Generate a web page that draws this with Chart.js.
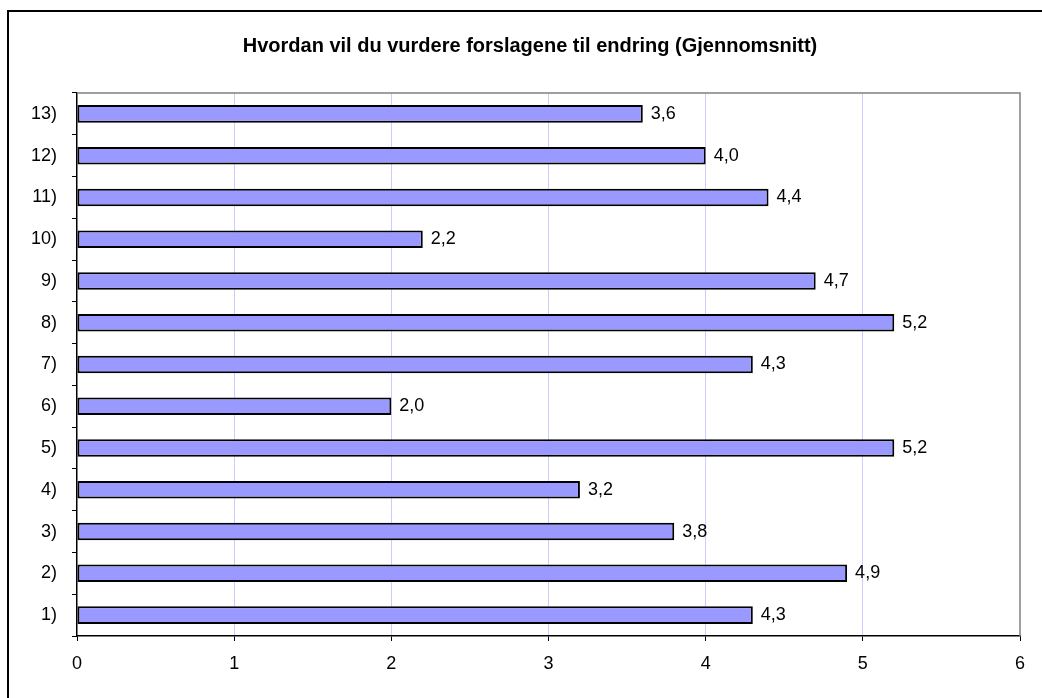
<!DOCTYPE html>
<html>
<head>
<meta charset="utf-8">
<script src="https://cdn.jsdelivr.net/npm/chart.js@4/dist/chart.umd.min.js"></script>
<style>
  html, body { margin: 0; padding: 0; background: #fff; overflow: hidden; }
  #wrap { position: absolute; left: 0; top: 0; width: 1042px; height: 698px; }
</style>
</head>
<body>
<div id="wrap"><canvas id="chart" width="1042" height="698"></canvas></div>
<script>
// chart title
const title = 'Hvordan vil du vurdere forslagene til endring (Gjennomsnitt)';
// question numbers, bottom to top
const labels = ['1)', '2)', '3)', '4)', '5)', '6)', '7)', '8)', '9)', '10)', '11)', '12)', '13)'];
// average score per question
const averages = [4.3, 4.9, 3.8, 3.2, 5.2, 2.0, 4.3, 5.2, 4.7, 2.2, 4.4, 4.0, 3.6];
// x axis range
const xMin = 0;
const xMax = 6;

const fontFamily = '"Liberation Sans", Arial, sans-serif';

// number with decimal comma
function fmt(v) {
  return v.toFixed(1).replace('.', ',');
}

// outer frame, title, plot border and the value next to each bar
const decorations = {
  id: 'decorations',
  beforeDraw(chart) {
    const ctx = chart.ctx;
    ctx.save();
    ctx.strokeStyle = '#000';
    ctx.lineWidth = 2;
    ctx.strokeRect(8, 11, 1200, 900);
    ctx.fillStyle = '#000';
    ctx.font = 'bold 20px ' + fontFamily;
    ctx.textAlign = 'center';
    ctx.textBaseline = 'middle';
    ctx.fillText(title, 530, 46);
    ctx.restore();
  },
  afterDatasetsDraw(chart) {
    const ctx = chart.ctx;
    const area = chart.chartArea;
    ctx.save();
    // grey border on top and right of the plot
    ctx.strokeStyle = '#808080';
    ctx.lineWidth = 1.5;
    ctx.beginPath();
    ctx.moveTo(area.left, area.top);
    ctx.lineTo(area.right, area.top);
    ctx.lineTo(area.right, area.bottom);
    ctx.stroke();
    // value labels
    ctx.fillStyle = '#000';
    ctx.font = '18px ' + fontFamily;
    ctx.textAlign = 'left';
    ctx.textBaseline = 'middle';
    const meta = chart.getDatasetMeta(0);
    meta.data.forEach((bar, i) => {
      ctx.fillText(fmt(averages[i]), bar.x + 8, bar.y);
    });
    ctx.restore();
  }
};

new Chart(document.getElementById('chart'), {
  type: 'bar',
  data: {
    labels: labels,
    datasets: [{
      data: averages,
      backgroundColor: '#9999ff',
      borderColor: '#000',
      borderWidth: 2,
      borderSkipped: false,
      barPercentage: 0.84,
      categoryPercentage: 0.5
    }]
  },
  options: {
    indexAxis: 'y',
    responsive: false,
    devicePixelRatio: 1,
    animation: false,
    layout: { padding: { left: 0, right: 22, top: 93, bottom: 0 } },
    plugins: {
      legend: { display: false },
      tooltip: { enabled: false }
    },
    scales: {
      x: {
        min: xMin,
        max: xMax,
        afterFit(scale) { scale.height = 62; },
        ticks: {
          stepSize: 1,
          color: '#000',
          padding: 12,
          font: { family: fontFamily, size: 18 }
        },
        grid: {
          color: (c) => (c.tick && c.tick.value > xMin && c.tick.value < xMax) ? '#ccccff' : 'rgba(0,0,0,0)',
          lineWidth: 1,
          tickLength: 5,
          tickColor: '#000'
        },
        border: { color: '#000', width: 1.5 }
      },
      y: {
        reverse: true,
        afterFit(scale) { scale.width = 77; },
        ticks: {
          color: '#000',
          padding: 15,
          font: { family: fontFamily, size: 18 }
        },
        grid: {
          offset: true,
          drawOnChartArea: false,
          tickLength: 5,
          tickColor: '#000'
        },
        border: { color: '#000', width: 1.5 }
      }
    }
  },
  plugins: [decorations]
});
</script>
</body>
</html>
